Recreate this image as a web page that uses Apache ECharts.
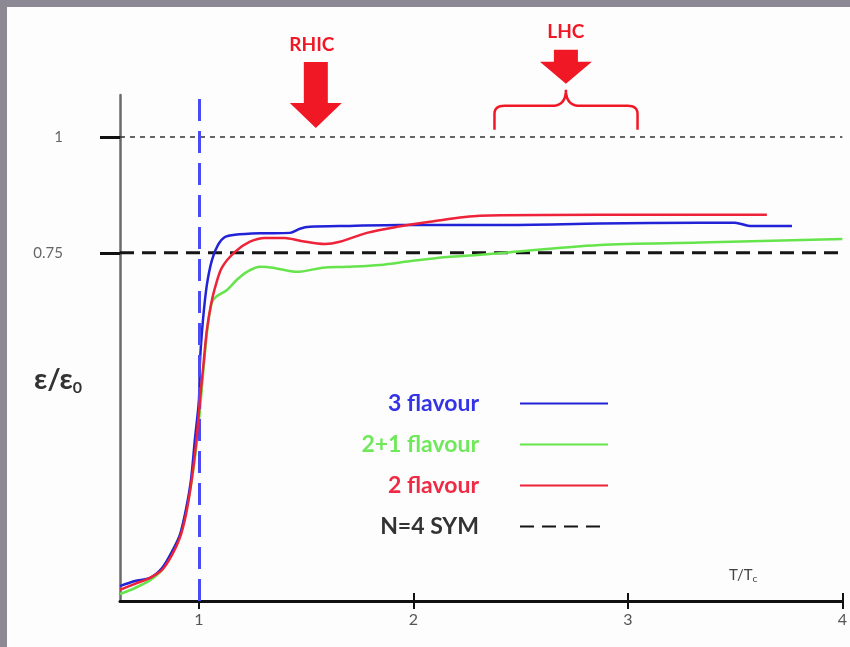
<!DOCTYPE html>
<html><head><meta charset="utf-8">
<script src="https://cdn.jsdelivr.net/npm/echarts@6/dist/echarts.min.js"></script>
<style>html,body{margin:0;padding:0;background:#8d8994}#c{width:850px;height:647px}</style>
</head><body><div id="c"></div>
<script>
// ---- data (T/Tc , eps/eps0) ----
const blueT = [0.632,0.702,0.772,0.828,0.874,0.911,0.939,0.963,0.981,1.000,1.005,1.019,1.037,1.061,1.089,1.121,1.168,1.284,1.424,1.471,1.517,1.704,1.937,2.403,2.869,3.336,3.499,3.569,3.765];
const blueE = [0.032,0.043,0.050,0.071,0.106,0.142,0.196,0.261,0.347,0.433,0.517,0.606,0.681,0.735,0.767,0.784,0.789,0.792,0.793,0.802,0.806,0.808,0.810,0.810,0.813,0.815,0.815,0.808,0.808];
const greenT = [0.632,0.702,0.772,0.828,0.874,0.911,0.939,0.963,0.986,1.005,1.023,1.042,1.061,1.084,1.131,1.177,1.224,1.284,1.345,1.457,1.578,1.690,1.844,1.998,2.156,2.310,2.869,3.336,4.0];
const greenE = [0.015,0.028,0.045,0.067,0.106,0.142,0.192,0.250,0.325,0.412,0.509,0.595,0.644,0.657,0.670,0.692,0.709,0.720,0.718,0.709,0.718,0.720,0.724,0.733,0.741,0.746,0.767,0.772,0.780];
const redT = [0.632,0.702,0.772,0.828,0.874,0.911,0.939,0.963,0.986,1.005,1.023,1.037,1.056,1.075,1.107,1.168,1.238,1.308,1.401,1.471,1.587,1.657,1.783,1.923,2.077,2.310,2.869,3.648];
const redE = [0.024,0.037,0.050,0.067,0.099,0.136,0.185,0.250,0.336,0.433,0.519,0.584,0.638,0.675,0.718,0.752,0.774,0.782,0.782,0.776,0.769,0.774,0.793,0.806,0.817,0.830,0.832,0.832];
const symT = [0.632, 4.0];
const symE = [0.75, 0.75];
const xTicks = [1, 2, 3, 4];
const yTicks = [0.75, 1];
const tcLine = 1;      // vertical T = Tc line
const sbLimit = 1;     // Stefan-Boltzmann limit
const seriesNames = ['3 flavour', '2+1 flavour', '2 flavour', 'N=4 SYM'];
const rhicT = 1.545, lhcT = 2.711, lhcFrom = 2.378, lhcTo = 3.045;

const zip = (a, b) => a.map((v, i) => [v, b[i]]);
const chart = echarts.init(document.getElementById('c'));
const FONT = 'Lato, "Open Sans", sans-serif';
const colors = {b:'#2222d6', g:'#66e44c', r:'#ee2238', k:'#151515'};

chart.setOption({
  backgroundColor: '#8d8994',
  animation: false,
  grid: {left: 120, right: 7, top: 95, bottom: 46},
  xAxis: [{
    type: 'value', min: 0.632, max: 4, position: 'bottom',
    axisLine: {lineStyle: {color: '#111', width: 3}},
    axisTick: {customValues: xTicks, length: 8, lineStyle: {color: '#111', width: 2}},
    axisLabel: {customValues: xTicks, color: '#555', fontSize: 16, margin: 11, fontFamily: FONT},
    splitLine: {show: false}
  }, {
    type: 'value', min: 0.632, max: 4, position: 'bottom', offset: 0,
    axisLine: {show: false},
    axisTick: {customValues: xTicks, inside: true, length: 8, lineStyle: {color: '#111', width: 2}},
    axisLabel: {show: false},
    splitLine: {show: false}
  }],
  yAxis: {
    type: 'value', min: 0, max: 1.09,
    axisLine: {show: true, lineStyle: {color: '#6a6a6a', width: 2.5}},
    axisTick: {customValues: yTicks, length: 20, lineStyle: {color: '#111', width: 3}},
    axisLabel: {customValues: yTicks, formatter: v => (v === 1 ? '1' : String(v)), color: '#666', fontSize: 15, margin: 57, fontFamily: FONT},
    splitLine: {show: false}
  },
  legend: {
    orient: 'vertical', align: 'right', right: 236, top: 387,
    itemWidth: 88, itemHeight: 14, itemGap: 18, selectedMode: false,
    itemStyle: {color: 'transparent', borderWidth: 0, opacity: 0},
    textStyle: {fontSize: 23, lineHeight: 22, fontWeight: 'bold', fontFamily: FONT, padding: [0, 36, 0, 0]},
    data: [
      {name: seriesNames[0], textStyle: {color: '#3434e6'}},
      {name: seriesNames[1], textStyle: {color: '#6fe85a'}},
      {name: seriesNames[2], textStyle: {color: '#ee2a44'}},
      {name: seriesNames[3], textStyle: {color: '#333'}}
    ]
  },
  series: [
    {type: 'line', name: 'guides', data: [], z: 1, silent: true,
     markLine: {symbol: 'none', silent: true, label: {show: false},
       data: [
         {yAxis: sbLimit, lineStyle: {color: '#333', width: 1.5, type: [5, 5]}},
         {xAxis: tcLine, lineStyle: {color: '#4b4bf5', width: 3, type: [22, 10]}}
       ]}},
    {type: 'line', name: seriesNames[3], data: zip(symT, symE), symbol: 'none', z: 2,
     lineStyle: {color: colors.k, width: 3, type: [14, 8]}, itemStyle: {color: colors.k}},
    {type: 'line', name: seriesNames[1], data: zip(greenT, greenE), symbol: 'none', smooth: 0.3, z: 3,
     lineStyle: {color: colors.g, width: 2.5}, itemStyle: {color: colors.g}},
    {type: 'line', name: seriesNames[0], data: zip(blueT, blueE), symbol: 'none', smooth: 0.3, z: 4,
     lineStyle: {color: colors.b, width: 2.5}, itemStyle: {color: colors.b}},
    {type: 'line', name: seriesNames[2], data: zip(redT, redE), symbol: 'none', smooth: 0.3, z: 5,
     lineStyle: {color: colors.r, width: 2.5}, itemStyle: {color: colors.r}}
  ]
});

const px = (t, v) => chart.convertToPixel({xAxisIndex: 0, yAxisIndex: 0}, [t, v]);
const rTip = px(rhicT, 1.019);
const lTip = px(lhcT, 1.114);
const bL = px(lhcFrom, 1.015), bR = px(lhcTo, 1.015);
const bc = lTip[0], bTop = lTip[1] + 6, bBot = bL[1], bMid = bBot - 24;
const arrow = (tip, shaftLen, headLen) => [
  [tip[0]-12, tip[1]-shaftLen], [tip[0]+12, tip[1]-shaftLen], [tip[0]+12, tip[1]-headLen],
  [tip[0]+26, tip[1]-headLen], [tip[0], tip[1]], [tip[0]-26, tip[1]-headLen], [tip[0]-12, tip[1]-headLen]
];
// curly brace as a polyline of quadratic pieces
const quad = (p0, c, p1, n) => {
  const out = [];
  for (let i = 0; i <= n; i++) {
    const t = i / n, u = 1 - t;
    out.push([u*u*p0[0] + 2*u*t*c[0] + t*t*p1[0], u*u*p0[1] + 2*u*t*c[1] + t*t*p1[1]]);
  }
  return out;
};
const brace = [].concat(
  [[bL[0], bBot]],
  quad([bL[0], bMid + 8], [bL[0], bMid], [bL[0] + 10, bMid], 8),
  quad([bc - 14, bMid], [bc, bMid], [bc, bTop], 10),
  quad([bc, bTop], [bc, bMid], [bc + 14, bMid], 10),
  quad([bR[0] - 10, bMid], [bR[0], bMid], [bR[0], bMid + 8], 8),
  [[bR[0], bBot]]
);

chart.setOption({
  graphic: [
    {type: 'rect', z: -100, silent: true, shape: {x: 7, y: 7, width: 850, height: 650}, style: {fill: '#fdfdfe'}},
    {type: 'polygon', z: 10, shape: {points: arrow(rTip, 66, 25)}, style: {fill: '#f01824'}},
    {type: 'polygon', z: 10, shape: {points: arrow(lTip, 34, 22)}, style: {fill: '#f01824'}},
    {type: 'polyline', z: 10, shape: {points: brace}, style: {fill: null, stroke: '#f01824', lineWidth: 2.5}},
    {type: 'text', z: 10, x: rTip[0] - 4, y: rTip[1] - 83, style: {text: 'RHIC', fill: '#f01824', font: 'bold 19px ' + FONT, align: 'center', verticalAlign: 'middle'}},
    {type: 'text', z: 10, x: lTip[0], y: lTip[1] - 52, style: {text: 'LHC', fill: '#f01824', font: 'bold 19px ' + FONT, align: 'center', verticalAlign: 'middle'}},
    {type: 'text', z: 10, x: 34, y: 364, style: {
      text: '{a|ε/ε}{b|0}', rich: {a: {fontSize: 29, fontWeight: 'bold', fill: '#333', fontFamily: FONT},
                                   b: {fontSize: 16, fontWeight: 'bold', fill: '#333', fontFamily: FONT, padding: [16, 0, 0, 0]}}}},
    {type: 'text', z: 10, x: 729, y: 566, style: {
      text: '{a|T/T}{b|c}', rich: {a: {fontSize: 15, fill: '#444', fontFamily: FONT},
                                   b: {fontSize: 10, fill: '#444', fontFamily: FONT, padding: [8, 0, 0, 0]}}}}
  ]
});
</script></body></html>
